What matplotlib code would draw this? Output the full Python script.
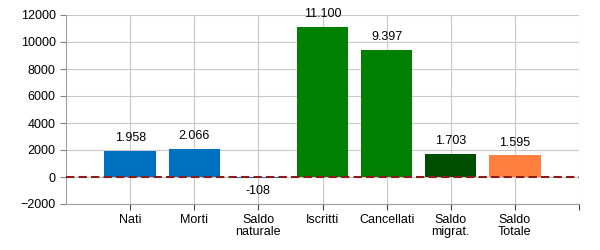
import matplotlib
matplotlib.use("Agg")
from matplotlib import pyplot as plt

categorie = ["Nati", "Morti", "Saldo\nnaturale", "Iscritti", "Cancellati", "Saldo\nmigrat.", "Saldo\nTotale"]
valori = [1958, 2066, -108, 11100, 9397, 1703, 1595]
colori = ["#0070C0", "#0070C0", "#0070C0", "#008000", "#008000", "#004F00", "#FF7F3F"]

plt.rcParams['font.family'] = ['Liberation Sans', 'DejaVu Sans']

fig = plt.figure(figsize=(6, 2.5), dpi=100)
ax = fig.add_axes([0.11, 0.184, 0.855, 0.756])

pos = list(range(1, len(categorie) + 1))
ax.bar(pos, valori, width=0.8, color=colori, zorder=2)

# etichette dei valori
for x, v in zip(pos, valori):
    testo = f"{v:,}".replace(",", ".")
    if v >= 0:
        ax.annotate(testo, (x, v), xytext=(0, 5), textcoords="offset points",
                    ha="center", va="bottom", fontsize=9)
    else:
        ax.annotate(testo, (x, v), xytext=(0, -5), textcoords="offset points",
                    ha="center", va="top", fontsize=9)

ax.axhline(0, color="#8B1A1A", linestyle=(0, (4, 2)), linewidth=1.5, zorder=3)

ax.set_xlim(0, 8)
ax.set_ylim(-2000, 12000)
ax.set_yticks(range(-2000, 12001, 2000))
ax.set_xticks(pos + [8])
ax.set_xticklabels(categorie + [""], fontsize=9, linespacing=1.0)
ax.tick_params(axis='y', labelsize=9, length=4, color="#808080")
ax.tick_params(axis='x', length=4, color="#404040")

ax.grid(True, color="#C8C8C8", linewidth=0.8, zorder=0)
ax.set_axisbelow(True)
for lato in ["top", "right"]:
    ax.spines[lato].set_visible(False)
ax.spines["left"].set_color("#A0A0A0")
ax.spines["bottom"].set_color("#A0A0A0")

plt.savefig("out.png", dpi=100)
